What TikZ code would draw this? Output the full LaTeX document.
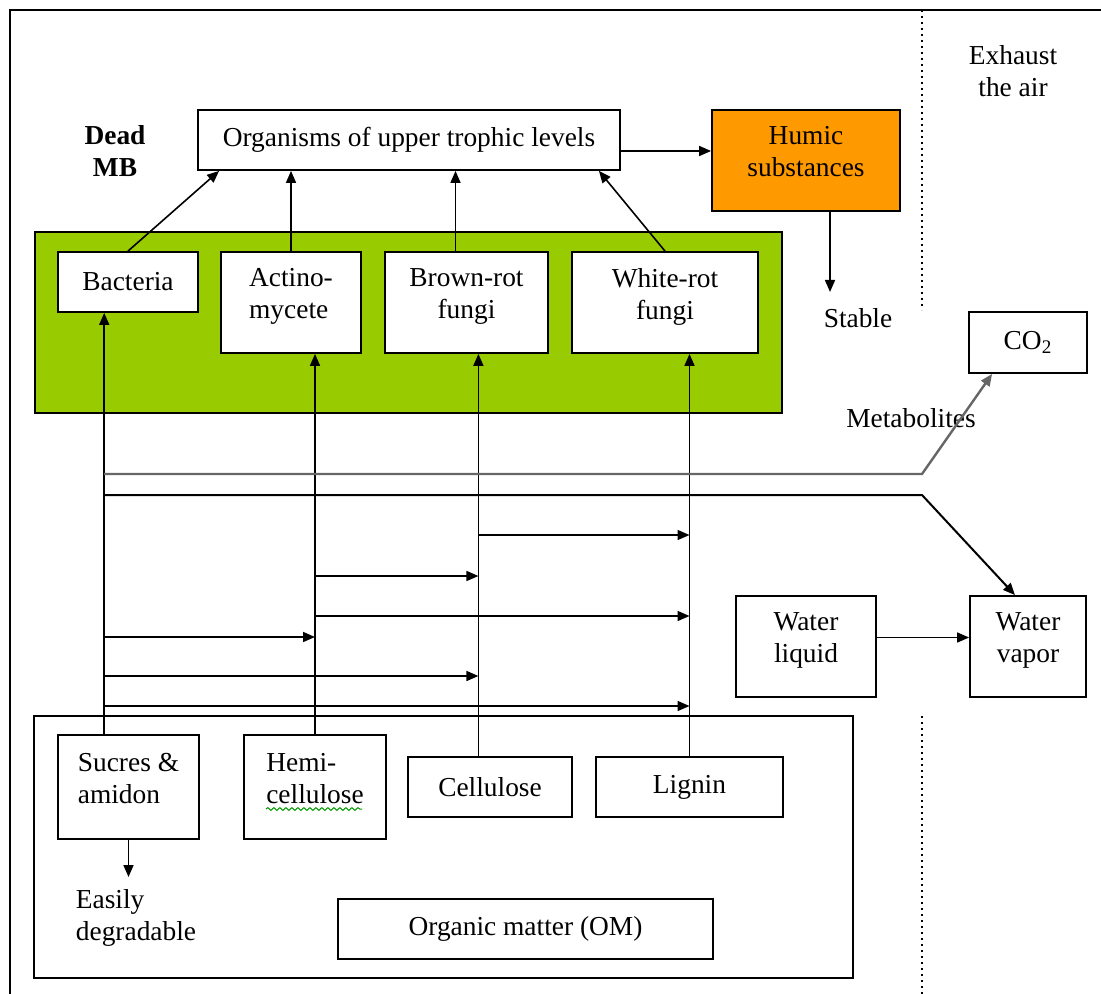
\documentclass[tikz,border=0pt]{standalone}
\usepackage{fontspec}
\setmainfont{Liberation Serif}
\usepackage{tikz}
\usetikzlibrary{arrows.meta}
\usetikzlibrary{calc}
\usetikzlibrary{decorations.pathmorphing}
\definecolor{humorange}{HTML}{FF9900}
\definecolor{mbgreen}{HTML}{99CC00}
\tikzstyle{cell}=[rectangle,draw=black,line width=0.9pt,fill=white,inner sep=0mm,align=center]
\tikzstyle{tall}=[text depth=9pt]
\tikzstyle{frame}=[rectangle,draw=black,line width=0.9pt,inner sep=0mm]
\tikzstyle{txt}=[inner sep=0mm,align=center]
\tikzstyle{arrow}=[-{Triangle[length=6pt,width=5pt]},line width=0.8pt]

\begin{document}
\begin{tikzpicture}[x=0.5pt,y=-0.5pt,font=\fontsize{13.7}{16}\selectfont]
          \useasboundingbox (0,0) rectangle (1101,994);
          \draw[line width=1pt] (10,994) -- (10,10) -- (1101,10);
          \draw[dotted,line width=1pt] (922,10) -- (922,310);
          \draw[dotted,line width=1pt] (922,716) -- (922,994);
          % top row
          \node[txt,font=\fontsize{13.7}{16}\selectfont\bfseries] at (115,151) (dead) {Dead\\MB};
          \node[txt] at (1013,71) (exh) {Exhaust\\the air};
          \node[cell,minimum width=211pt,minimum height=30pt] at (409,140) (org) {Organisms of upper trophic levels};
          \node[cell,tall,fill=humorange,minimum width=94pt,minimum height=50.5pt] at (806,160.5) (hum) {Humic\\substances};
          \node[txt] at (858,318) (stb) {Stable};
          % microbial biomass
          \node[frame,fill=mbgreen,minimum width=373.5pt,minimum height=90.5pt] at (408.5,322.5) (mb) {};
          \node[cell,minimum width=70pt,minimum height=30pt] at (128,282) (bac) {Bacteria};
          \node[cell,tall,align=left,minimum width=70pt,minimum height=50.5pt] at (291,302.5) (act) {Actino-\\mycete};
          \node[cell,tall,minimum width=81.5pt,minimum height=50.5pt] at (466.5,302.5) (brn) {Brown-rot\\fungi};
          \node[cell,tall,minimum width=93pt,minimum height=50.5pt] at (665,302.5) (wht) {White-rot\\fungi};
          % gases and water
          \node[cell,minimum width=59pt,minimum height=30.5pt] at (1028,342.5) (co2) {CO\textsubscript{2}};
          \node[txt] at (911,418) (met) {Metabolites};
          \node[cell,tall,minimum width=70pt,minimum height=50.5pt] at (806,646.5) (liq) {Water\\liquid};
          \node[cell,tall,minimum width=58pt,minimum height=50.5pt] at (1028,646.5) (vap) {Water\\vapor};
          % organic matter
          \node[frame,minimum width=409.5pt,minimum height=131pt] at (443.5,847) (om) {};
          \node[cell,tall,align=left,minimum width=70.5pt,minimum height=52pt] at (128.5,787) (suc) {Sucres \&\\amidon};
          \node[cell,tall,align=left,minimum width=71pt,minimum height=52pt] at (315,787) (hem) {Hemi-\\cellulose};
          \node[cell,minimum width=82pt,minimum height=30pt] at (490,787) (cel) {Cellulose};
          \node[cell,minimum width=93.5pt,minimum height=30pt] at (689.5,787) (lig) {Lignin};
          \node[txt,align=left] at (136,918) (easy) {Easily\\degradable};
          \node[cell,minimum width=187.5pt,minimum height=30pt] at (525.5,929) (omt) {Organic matter (OM)};
          \draw[green!60!black,line width=0.5pt,decorate,decoration={snake,amplitude=0.7pt,segment length=3pt}] (266,809) -- (362,809);
          % up to the organisms
          \coordinate (bt) at ($(brn.north)+(-11,0)$);
          \draw [arrow] (bac.north) -- ($(org.south west)+(22,0)$);
          \draw [arrow] (act.north) -- (act.north |- org.south);
          \draw [arrow] (bt) -- (bt |- org.south);
          \draw [arrow] (wht.north) -- ($(org.south east)+(-22,0)$);
          \coordinate (oh) at ($(org.east)+(0,11)$);
          \draw [arrow] (oh) -- (oh -| hum.west);
          \coordinate (st) at (830,292);
          \draw [arrow] (st |- hum.south) -- (st);
          % feeding columns
          \coordinate (ca) at ($(suc.north west)!.33!(suc.north east)$);
          \coordinate (cb) at (hem.north);
          \coordinate (cc) at ($(cel.north west)!.43!(cel.north east)$);
          \coordinate (cd) at (lig.north);
          \draw [arrow] (ca) -- (ca |- bac.south);
          \draw [arrow] (cb) -- (cb |- act.south);
          \draw [arrow] (cc) -- (cc |- brn.south);
          \draw [arrow] (cd) -- (cd |- wht.south);
          \foreach \a/\b/\y in {cc/cd/535,cb/cc/576,cb/cd/616,ca/cb/637,ca/cc/676,ca/cd/706}
            \draw [arrow] (\a |- 0,\y) -- (\b |- 0,\y);
          \draw [arrow,line width=1.2pt,black!60] (ca |- 0,474) -- (922,474) -- ($(co2.south west)+(24,0)$);
          \draw [arrow,line width=1pt] (ca |- 0,495) -- (922,495) -- ($(vap.north)+(-13,0)$);
          \coordinate (lv) at ($(liq.east)+(0,-9)$);
          \draw [arrow] (lv) -- (lv -| vap.west);
          \coordinate (ez) at (128,877);
          \draw [arrow] (suc.south) -- (suc.south |- ez);
        \end{tikzpicture}
\end{document}
